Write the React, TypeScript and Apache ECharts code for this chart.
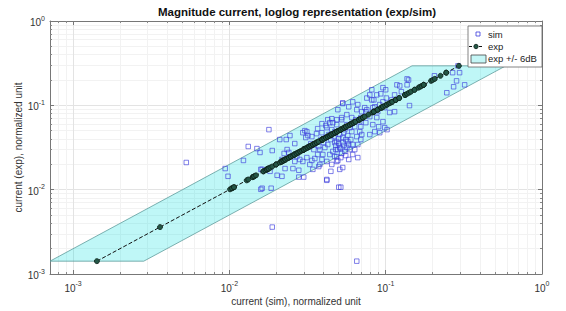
import React, { useEffect, useRef } from 'react';
import * as echarts from 'echarts';

// simulated value (x) paired with measured value (y) for each sample
const simValues = [
  0.0053, 0.0094, 0.0098, 0.0123, 0.0132, 0.015, 0.0157, 0.0159, 0.0159, 0.0179,
  0.0185, 0.0202, 0.021, 0.0217, 0.0231, 0.0234, 0.0244, 0.0224, 0.0262, 0.0255,
  0.0278, 0.0299, 0.0282, 0.027, 0.0304, 0.0308, 0.0318, 0.0327, 0.0337, 0.0188,
  0.024, 0.0217, 0.0295, 0.0313, 0.0337, 0.0367, 0.0391, 0.042, 0.0439, 0.0452,
  0.0486, 0.0373, 0.0379, 0.0408, 0.0426, 0.0396, 0.0439, 0.0459, 0.0486, 0.0472,
  0.0295, 0.0313, 0.0327, 0.0342, 0.0373, 0.0379, 0.0262, 0.0278, 0.0227, 0.0162,
  0.0182, 0.0446, 0.042, 0.0162, 0.0352, 0.0391, 0.042, 0.0452, 0.0486, 0.0494,
  0.0508, 0.0501, 0.0531, 0.058, 0.0615, 0.0663, 0.0757, 0.0791, 0.0815, 0.0877,
  0.096, 0.093, 0.101, 0.096, 0.0916, 0.0827, 0.0757, 0.0703, 0.0653, 0.118,
  0.123, 0.137, 0.14, 0.137, 0.142, 0.096, 0.0902, 0.0827, 0.0746, 0.0693,
  0.0682, 0.0607, 0.0564, 0.0523, 0.0486, 0.0459, 0.0472, 0.0508, 0.0547, 0.0589,
  0.0634, 0.0653, 0.0703, 0.0486, 0.0531, 0.0572, 0.0615, 0.0508, 0.0547, 0.0472,
  0.0589, 0.0615, 0.0494, 0.0663, 0.0531, 0.0693, 0.0791, 0.0851, 0.0916, 0.0986,
  0.102, 0.0877, 0.0791, 0.0693, 0.106, 0.114, 0.205, 0.268, 0.297, 0.284,
  0.32, 0.272, 0.246, 0.084, 0.0851, 0.0746, 0.0531, 0.0494, 0.0426, 0.0523,
  0.0815, 0.0531, 0.042, 0.0516, 0.0653, 0.0188, 0.0479, 0.0501, 0.0516, 0.0539,
  0.0555, 0.0564, 0.058, 0.0598, 0.0555, 0.0523, 0.0501, 0.0539, 0.0572, 0.0607,
  0.0466, 0.0446, 0.0433, 0.0452, 0.0414, 0.0402, 0.0479, 0.0516, 0.058, 0.0634,
  0.0663, 0.0682, 0.0643, 0.0564, 0.0607, 0.0367, 0.0347, 0.0385, 0.0361, 0.0332,
  0.0414, 0.0391, 0.0734, 0.0889, 0.0986, 0.109, 0.114, 0.126, 0.1, 0.29,
];

const expValues = [
  0.021, 0.0178, 0.0144, 0.0222, 0.0325, 0.0307, 0.0276, 0.0174, 0.0101, 0.0515,
  0.0104, 0.0148, 0.0393, 0.0144, 0.0393, 0.0299, 0.0438, 0.0269, 0.0352, 0.0178,
  0.0141, 0.0141, 0.0228, 0.0247, 0.0501, 0.0415, 0.0438, 0.0325, 0.0222, 0.0291,
  0.0276, 0.0228, 0.0474, 0.0487, 0.0426, 0.0529, 0.0474, 0.0544, 0.0623, 0.0694,
  0.059, 0.0325, 0.0299, 0.0316, 0.0343, 0.0261, 0.0261, 0.0284, 0.0247, 0.0362,
  0.0216, 0.024, 0.0199, 0.0174, 0.0188, 0.0199, 0.0216, 0.017, 0.0178, 0.0174,
  0.0165, 0.0165, 0.0132, 0.0104, 0.0234, 0.0228, 0.0216, 0.0199, 0.0216, 0.0299,
  0.0174, 0.0107, 0.105, 0.0962, 0.11, 0.102, 0.122, 0.133, 0.116, 0.133,
  0.162, 0.137, 0.122, 0.11, 0.102, 0.0938, 0.0888, 0.0841, 0.0888, 0.175,
  0.17, 0.206, 0.2, 0.175, 0.0993, 0.064, 0.0558, 0.059, 0.0623, 0.0558,
  0.0488, 0.0716, 0.0776, 0.0716, 0.0676, 0.0623, 0.0488, 0.045, 0.0515, 0.0544,
  0.0558, 0.0426, 0.045, 0.0372, 0.0362, 0.0372, 0.0343, 0.0316, 0.0284, 0.0247,
  0.0299, 0.0261, 0.0222, 0.024, 0.0415, 0.0393, 0.045, 0.0488, 0.0474, 0.0544,
  0.0515, 0.0716, 0.0735, 0.0716, 0.0822, 0.0841, 0.224, 0.244, 0.244, 0.195,
  0.175, 0.166, 0.141, 0.116, 0.0962, 0.0841, 0.107, 0.0888, 0.0676, 0.0676,
  0.153, 0.0183, 0.0129, 0.0107, 0.00142, 0.0036, 0.0334, 0.0352, 0.0307, 0.0334,
  0.0393, 0.0316, 0.0343, 0.0393, 0.0254, 0.0269, 0.0404, 0.0474, 0.0438, 0.0488,
  0.0426, 0.0393, 0.045, 0.0515, 0.0415, 0.0362, 0.0299, 0.024, 0.0228, 0.0299,
  0.0343, 0.064, 0.0676, 0.059, 0.0606, 0.0261, 0.0299, 0.0393, 0.0462, 0.0352,
  0.0575, 0.0606, 0.0938, 0.0841, 0.0938, 0.116, 0.133, 0.145, 0.153, 0.294,
];

const bandDb = 6;
const yRange = [0.001, 1];
const xMax = 1;

const FONT = 'Liberation Sans, Arial, Helvetica, sans-serif';

export default function App() {
  const ref = useRef<HTMLDivElement>(null);

  useEffect(() => {
    const chart = echarts.init(ref.current!, null, { renderer: 'svg' });
    const factor = Math.pow(10, bandDb / 20);
    const expMin = Math.min(...expValues);
    const expMax = Math.max(...expValues);
    const band = [
      [expMin / factor, expMin],
      [expMax / factor, expMax],
      [expMax * factor, expMax],
      [expMin * factor, expMin],
    ];
    const xMin = expMin / factor;
    const expLine = [...expValues].sort((a, b) => a - b).map((v) => [v, v]);
    const simData = simValues.map((s, i) => [s, expValues[i]]);

    const fmt = (v: number) => {
      const l = Math.log10(v);
      const r = Math.round(l);
      if (Math.abs(l - r) > 1e-6) return '';
      return `{b|10}{s|${r}}`;
    };
    const rich = {
      b: { fontSize: 10, color: '#333', fontFamily: FONT, verticalAlign: 'bottom' },
      s: { fontSize: 7, color: '#333', fontFamily: FONT, verticalAlign: 'bottom', padding: [0, 0, 6, 0] },
    };
    const axisBase = (min: number, max: number) => ({
      type: 'log',
      logBase: 10,
      min,
      max,
      axisLine: { show: true, onZero: false, lineStyle: { color: '#777', width: 1 } },
      axisTick: { show: true, inside: true, length: 4, lineStyle: { color: '#777' } },
      minorTick: { show: true, splitNumber: 9, length: 2, lineStyle: { color: '#888' } },
    });

    chart.setOption({
      animation: false,
      backgroundColor: '#fff',
      grid: { left: 50, right: 24, top: 21, bottom: 36 },
      xAxis: [
        {
          ...axisBase(xMin, xMax),
          position: 'bottom',
          name: 'current (sim), normalized unit',
          nameLocation: 'middle',
          nameGap: 22,
          nameMoveOverlap: false,
          nameTextStyle: { fontSize: 10, color: '#333', fontFamily: FONT },
          axisLabel: { formatter: fmt, rich, margin: 6, showMinLabel: true },
          splitLine: { show: true, lineStyle: { color: '#e3e3e3' } },
          minorSplitLine: { show: true, lineStyle: { color: '#f2f2f2' } },
        },
        {
          ...axisBase(xMin, xMax),
          position: 'top',
          axisLabel: { show: false },
          splitLine: { show: false },
        },
      ],
      yAxis: [
        {
          ...axisBase(yRange[0], yRange[1]),
          position: 'left',
          name: 'current (exp), normalized unit',
          nameLocation: 'middle',
          nameGap: 27,
          nameMoveOverlap: false,
          nameTextStyle: { fontSize: 10, color: '#333', fontFamily: FONT },
          axisLabel: { formatter: fmt, rich, margin: 5 },
          splitLine: { show: true, lineStyle: { color: '#e3e3e3' } },
          minorSplitLine: { show: true, lineStyle: { color: '#f2f2f2' } },
        },
        {
          ...axisBase(yRange[0], yRange[1]),
          position: 'right',
          axisLabel: { show: false },
          splitLine: { show: false },
        },
      ],
      series: [
        {
          type: 'custom',
          name: 'exp +/- 6dB',
          xAxisIndex: 0,
          yAxisIndex: 0,
          data: [[band[0][0], band[0][1]]],
          renderItem: (params: any, api: any) => ({
            type: 'polygon',
            shape: { points: band.map((p) => api.coord(p)) },
            style: { fill: 'rgba(0, 225, 225, 0.25)', stroke: '#5e9c9c', lineWidth: 0.8 },
          }),
          z: 1,
        },
        {
          type: 'scatter',
          name: 'sim',
          data: simData,
          symbol: 'rect',
          symbolSize: 4.5,
          itemStyle: { color: 'rgba(0,0,0,0)', borderColor: '#3b3bdc', borderWidth: 0.8 },
          z: 2,
        },
        {
          type: 'line',
          name: 'exp',
          data: expLine,
          symbol: 'circle',
          symbolSize: 5,
          showAllSymbol: true,
          lineStyle: { color: '#111', width: 1, type: 'dashed' },
          itemStyle: { color: '#245646', borderColor: '#0c1f18', borderWidth: 0.8 },
          z: 3,
        },
      ],
      graphic: [
        {
          type: 'text',
          x: 297,
          y: 6,
          z: 100,
          style: {
            text: 'Magnitude current, loglog representation (exp/sim)',
            fontSize: 11.5,
            fontWeight: 'bold',
            fontFamily: FONT,
            fill: '#111',
            textAlign: 'center',
          },
        },
        {
          type: 'group',
          z: 100,
          children: [
            { type: 'rect', z: 100, shape: { x: 468, y: 26, width: 74, height: 41 }, style: { fill: '#fff', stroke: '#666', lineWidth: 0.8 } },
            { type: 'rect', z: 101, shape: { x: 476, y: 32, width: 4, height: 4 }, style: { fill: 'none', stroke: '#3b3bdc', lineWidth: 0.8 } },
            { type: 'text', z: 101, x: 488, y: 29.5, style: { text: 'sim', fontSize: 9.5, fontFamily: FONT, fill: '#222' } },
            { type: 'line', z: 101, shape: { x1: 469, y1: 46.5, x2: 484, y2: 46.5 }, style: { stroke: '#111', lineWidth: 1, lineDash: [3, 2] } },
            { type: 'circle', z: 102, shape: { cx: 476, cy: 46.5, r: 2.2 }, style: { fill: '#245646', stroke: '#0c1f18', lineWidth: 0.8 } },
            { type: 'text', z: 101, x: 488, y: 41.5, style: { text: 'exp', fontSize: 9.5, fontFamily: FONT, fill: '#222' } },
            { type: 'rect', z: 101, shape: { x: 471, y: 55, width: 15, height: 8 }, style: { fill: '#c4f6f6', stroke: '#444', lineWidth: 0.8 } },
            { type: 'text', z: 101, x: 488, y: 53.5, style: { text: 'exp +/- 6dB', fontSize: 9.5, fontFamily: FONT, fill: '#222' } },
          ],
        },
      ],
    });
    return () => chart.dispose();
  }, []);

  return <div ref={ref} style={{ position: 'fixed', left: 0, top: 0, width: 566, height: 311 }} />;
}
